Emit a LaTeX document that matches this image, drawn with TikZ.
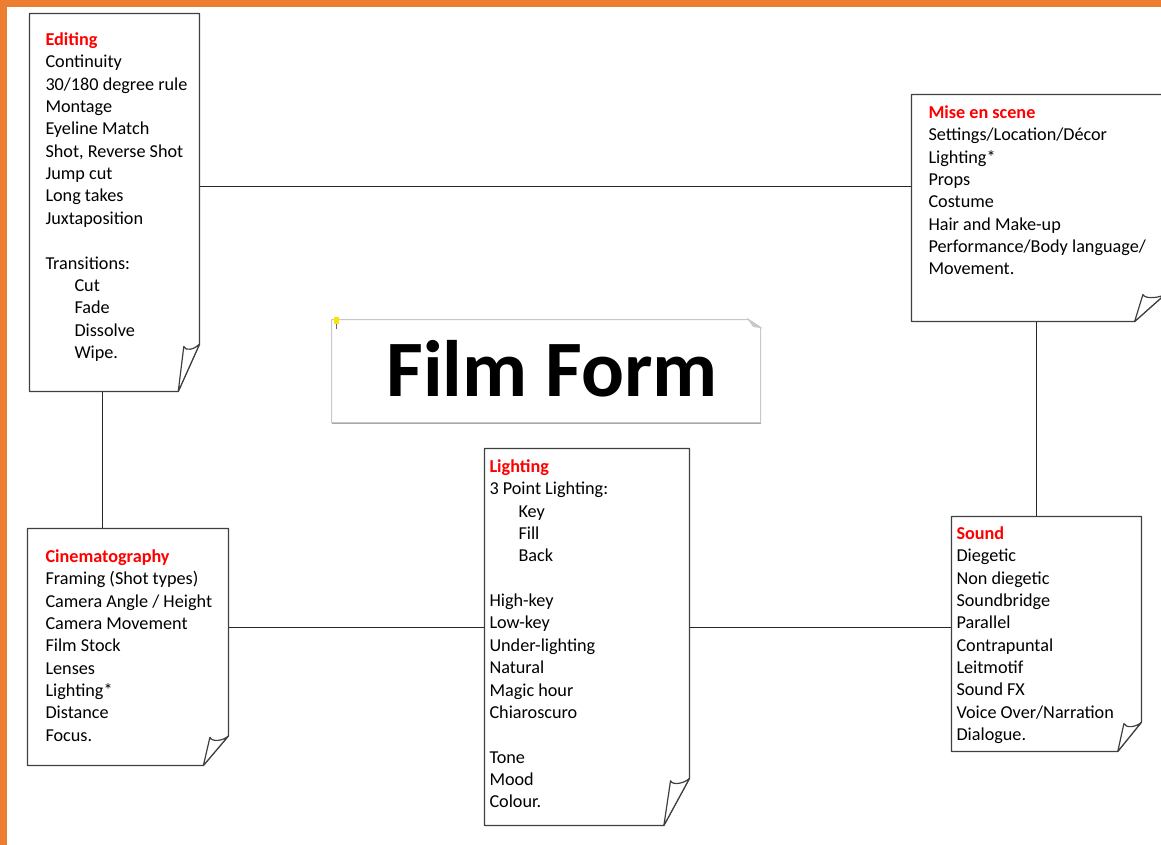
\documentclass[tikz,border=0pt]{standalone}
\usepackage{fontspec}
\setmainfont{Carlito}
\usetikzlibrary{calc,fit}

\definecolor{frameorange}{RGB}{237,125,49}
\definecolor{headred}{RGB}{255,0,0}
\definecolor{cardgray}{RGB}{64,64,64}
\definecolor{titlegray}{RGB}{200,200,200}

\tikzset{every picture/.style={line width=0.75pt}}
\tikzset{
	card/.style={inner sep=0pt, draw=none},
	cardline/.style={draw=cardgray, line width=0.9pt, line join=round},
	item/.style={anchor=base west, inner sep=0pt, font=\fontsize{13.65}{16}\selectfont},
	heading/.style={item, font=\fontsize{13.65}{16}\selectfont\bfseries, text=headred},
	link/.style={draw=black!85, line width=0.75pt}
}

\newcommand{\ind}{\hspace*{21.75pt}}
% paper card with curled bottom right corner
\newcommand{\notecard}[1]{%
	\coordinate (#1-a) at ($(#1.south east)!0.125!(#1.south west)$);
	\coordinate (#1-b) at ($(#1.south east)!0.125!(#1.north east)$);
	\coordinate (#1-u) at ($(#1-a)!0.26!(#1-b)$);
	\coordinate (#1-v) at ($(#1-a)!0.95!(#1-b)$);
	\coordinate (#1-t) at (#1-u |- #1-v);
	\draw [cardline, fill=white] (#1.north west) -- (#1.north east) -- (#1-b) -- (#1-a) -- (#1.south west) -- cycle ;
	\draw [cardline, fill=white] (#1-a) -- (#1-t) .. controls +(2,5) and +(-5,5) .. (#1-b) -- cycle ;
}

\begin{document}
\begin{tikzpicture}[x=0.75pt,y=0.75pt,yscale=-1,xscale=1]
	\useasboundingbox (0,0) rectangle (1161,845);
	\clip (0,0) rectangle (1161,845);
	\fill [white] (0,0) rectangle (1161,845);

	%Shape: Orange frame
	\fill [frameorange] (0,0) rectangle (1161,7);
	\fill [frameorange] (0,0) rectangle (7,845);

	% card outlines (invisible fit nodes)
	\coordinate (editing-nw) at (30,14);   \coordinate (editing-se) at (199,391);
	\coordinate (mise-nw) at (912,95);     \coordinate (mise-se) at (1166,321);
	\coordinate (cinema-nw) at (28,529);   \coordinate (cinema-se) at (228,765);
	\coordinate (lighting-nw) at (485,449);\coordinate (lighting-se) at (689,825);
	\coordinate (sound-nw) at (952,517);   \coordinate (sound-se) at (1141,751);
	\coordinate (title-nw) at (332,320);   \coordinate (title-se) at (760,422);
	\node [card, fit=(editing-nw)(editing-se)] (editing) {};
	\node [card, fit=(mise-nw)(mise-se)] (mise) {};
	\node [card, fit=(cinema-nw)(cinema-se)] (cinema) {};
	\node [card, fit=(lighting-nw)(lighting-se)] (lighting) {};
	\node [card, fit=(sound-nw)(sound-se)] (sound) {};
	\node [card, fit=(title-nw)(title-se)] (titlecard) {};

	%Straight Lines
	\coordinate (upperrow) at (0,187);
	\coordinate (lowerrow) at (0,627);
	\coordinate (leftcol) at (102,0);
	\coordinate (rightcol) at (1036,0);
	\draw [link] (editing.east |- upperrow) -- (mise.west |- upperrow) ;
	\draw [link] (editing.south -| leftcol) -- (cinema.north -| leftcol) ;
	\draw [link] (cinema.east |- lowerrow) -- (lighting.west |- lowerrow) ;
	\draw [link] (lighting.east |- lowerrow) -- (sound.west |- lowerrow) ;
	\draw [link] (mise.south -| rightcol) -- (sound.north -| rightcol) ;

	%Shape: Cards
	\notecard{editing}
	\notecard{mise}
	\notecard{cinema}
	\notecard{lighting}
	\notecard{sound}

	%Shape: Title card
	\draw [draw=titlegray, fill=white] (titlecard.north west) -- ($(titlecard.north east)+(-12,0)$) -- ($(titlecard.north east)+(0,8)$) -- (titlecard.south east) -- (titlecard.south west) -- cycle ;
	\draw [draw=titlegray, fill=titlegray] ($(titlecard.north east)+(-12,0)$) -- ($(titlecard.north east)+(-7,7)$) -- ($(titlecard.north east)+(0,8)$) -- cycle ;
	\draw [draw=black!35, line width=1pt] ($(titlecard.south west)+(0,1)$) -- ($(titlecard.south east)+(0,1)$) ;
	\fill [yellow!85!orange] (334,317) rectangle (339,324) ;
	\draw [black!60, line width=0.6pt] (336.5,324) -- (336.5,329) ;

	% Text Node
	\node [font=\fontsize{60}{60}\selectfont\bfseries] (title) at (552,369) {Film Form};

	% Editing
	\node [heading] (editing-head) at (45,45.5) {Editing};
	\foreach \txt [count=\n] in {Continuity, {30/180 degree rule}, Montage, Eyeline Match, {Shot, Reverse Shot}, Jump cut, Long takes, Juxtaposition, {}, Transitions:, \ind Cut, \ind Fade, \ind Dissolve, \ind Wipe.}
		\node [item] (editing-\n) at ($(editing-head.base west)+(0,22.35*\n)$) {\txt};

	% Mise en scene
	\node [heading] (mise-head) at (928,118.5) {Mise en scene};
	\foreach \txt [count=\n] in {{Settings/Location/Décor}, Lighting*, Props, Costume, Hair and Make-up, {Performance/Body language/}, Movement.}
		\node [item] (mise-\n) at ($(mise-head.base west)+(0,22.35*\n)$) {\txt};

	% Cinematography
	\node [heading] (cinema-head) at (45,562.5) {Cinematography};
	\foreach \txt [count=\n] in {{Framing (Shot types)}, {Camera Angle / Height}, Camera Movement, Film Stock, Lenses, Lighting*, Distance, Focus.}
		\node [item] (cinema-\n) at ($(cinema-head.base west)+(0,22.35*\n)$) {\txt};

	% Lighting
	\node [heading] (lighting-head) at (489,472.5) {Lighting};
	\foreach \txt [count=\n] in {3 Point Lighting:, \ind Key, \ind Fill, \ind Back, {}, High-key, Low-key, Under-lighting, Natural, Magic hour, Chiaroscuro, {}, Tone, Mood, Colour.}
		\node [item] (lighting-\n) at ($(lighting-head.base west)+(0,22.35*\n)$) {\txt};

	% Sound
	\node [heading] (sound-head) at (956,539.5) {Sound};
	\foreach \txt [count=\n] in {Diegetic, Non diegetic, Soundbridge, Parallel, Contrapuntal, Leitmotif, Sound FX, {Voice Over/Narration}, Dialogue.}
		\node [item] (sound-\n) at ($(sound-head.base west)+(0,22.35*\n)$) {\txt};

\end{tikzpicture}
\end{document}
